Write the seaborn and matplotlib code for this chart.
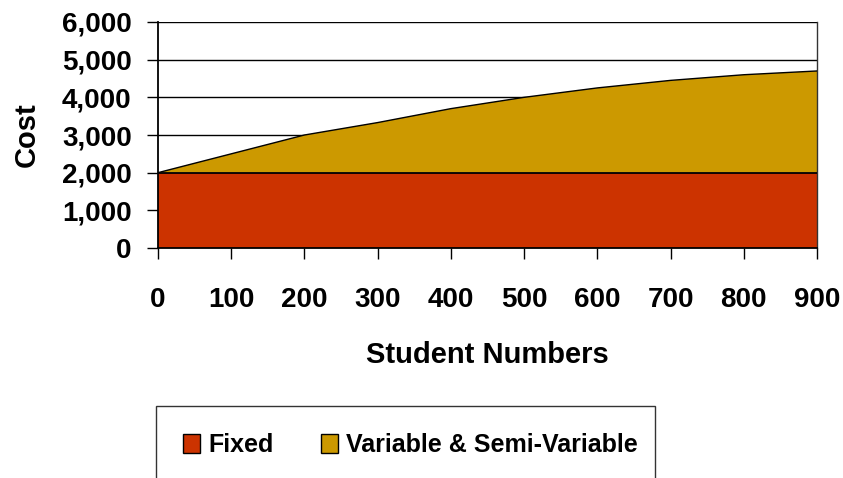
import matplotlib
matplotlib.use("Agg")
import matplotlib.pyplot as plt
from matplotlib.patches import Rectangle, Patch
import seaborn as sns
import pandas as pd

# Cost breakdown by student numbers
student_numbers = [0, 100, 200, 300, 400, 500, 600, 700, 800, 900]
fixed_cost = [2000, 2000, 2000, 2000, 2000, 2000, 2000, 2000, 2000, 2000]
variable_cost = [0, 500, 1000, 1330, 1700, 2000, 2250, 2450, 2600, 2700]

series_names = ["Fixed", "Variable & Semi-Variable"]
series_colors = ["#CC3300", "#CC9900"]

df = pd.DataFrame({
    "students": student_numbers,
    "fixed": fixed_cost,
    "variable": variable_cost,
})
df["total"] = df["fixed"] + df["variable"]

sns.set_theme(style="white")
plt.rcParams["font.family"] = ["Liberation Sans", "DejaVu Sans"]
plt.rcParams["font.weight"] = "bold"
plt.rcParams["text.color"] = "black"
plt.rcParams["axes.labelcolor"] = "black"
plt.rcParams["xtick.color"] = "black"
plt.rcParams["ytick.color"] = "black"

fig = plt.figure(figsize=(8.43, 4.78), dpi=100)
ax = fig.add_axes([158 / 843, 1 - 248 / 478, (817 - 158) / 843, (248 - 22) / 478])

ax.stackplot(df["students"], df["fixed"], df["variable"],
             colors=series_colors, edgecolor="none", zorder=2)
sns.lineplot(data=df, x="students", y="fixed", color="black", lw=1.3, ax=ax, zorder=3)
sns.lineplot(data=df, x="students", y="total", color="black", lw=1.0, ax=ax, zorder=3)

ax.set_xlim(0, 900)
ax.set_ylim(0, 6000)
ax.set_xticks(student_numbers)
ax.set_yticks(range(0, 6001, 1000))
ax.set_yticklabels([f"{v:,}" for v in range(0, 6001, 1000)])
ax.grid(axis="y", color="black", lw=1.0, zorder=1)
ax.grid(axis="x", visible=False)

for side in ["left", "bottom"]:
    ax.spines[side].set_color("black")
    ax.spines[side].set_linewidth(1.3)
ax.spines["right"].set_color("#333333")
ax.spines["right"].set_linewidth(1.0)
ax.spines["top"].set_visible(False)
ax.spines["left"].set_zorder(4)
ax.spines["bottom"].set_zorder(4)

ax.tick_params(axis="y", direction="out", length=8, width=1.0, color="black",
               pad=11, labelsize=20, labelcolor="black")
ax.tick_params(axis="x", direction="out", length=8, width=1.0, color="black",
               pad=20, labelsize=20, labelcolor="black")
ax.tick_params(left=True, bottom=True)
for lbl in ax.get_xticklabels() + ax.get_yticklabels():
    lbl.set_fontweight("bold")

ax.set_xlabel("Student Numbers", fontsize=21, fontweight="bold", labelpad=20, color="black")
ax.set_ylabel("Cost", fontsize=21, fontweight="bold", labelpad=15, color="black")

# Legend frame running off the bottom edge
fig.patches.append(Rectangle((156 / 843, -0.05), (655 - 156) / 843, 1 - 406 / 478 + 0.05,
                             transform=fig.transFigure, fill=False,
                             edgecolor="#333333", lw=1.0))
handles = [Patch(facecolor=c, edgecolor="black", lw=1.0) for c in series_colors]
fig.legend(handles, series_names, loc="center left",
           bbox_to_anchor=(183 / 843, 1 - 445 / 478), ncol=2, frameon=False,
           prop={"size": 18, "weight": "bold"}, labelcolor="black",
           handlelength=0.68, handleheight=0.76,
           handletextpad=0.32, columnspacing=1.9, borderpad=0, borderaxespad=0)

fig.savefig("out.png", dpi=100)
